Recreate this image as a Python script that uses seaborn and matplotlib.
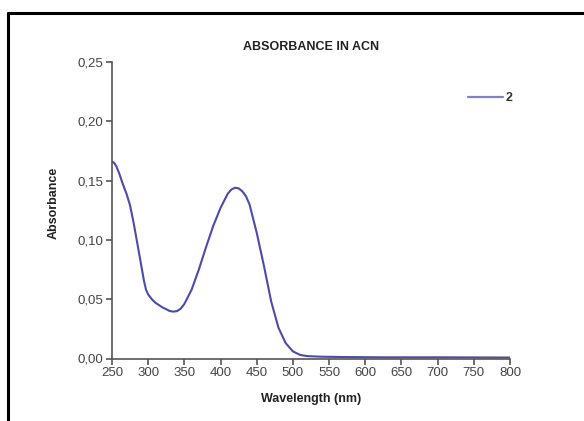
import numpy as np
import pandas as pd
import matplotlib
matplotlib.use("Agg")
import matplotlib.pyplot as plt
from matplotlib.lines import Line2D
from matplotlib.ticker import FuncFormatter
import seaborn as sns

# ── Data ──────────────────────────────────────────
wavelength = [250, 253, 256, 260, 265, 270, 275, 280, 285, 290, 294, 297, 300,
              305, 310, 320, 330, 335, 340, 345, 350, 360, 370, 380, 390, 400,
              410, 415, 420, 425, 430, 435, 440, 450, 460, 470, 480, 490, 500,
              510, 520, 540, 575, 625, 700, 800]
absorbance = [0.166, 0.165, 0.162, 0.156, 0.147, 0.139, 0.129, 0.114, 0.097,
              0.080, 0.066, 0.058, 0.054, 0.050, 0.047, 0.043, 0.040, 0.0395,
              0.040, 0.042, 0.046, 0.058, 0.075, 0.094, 0.112, 0.127, 0.139,
              0.1425, 0.144, 0.1435, 0.141, 0.137, 0.130, 0.106, 0.078, 0.048,
              0.026, 0.013, 0.006, 0.003, 0.002, 0.0015, 0.0012, 0.001, 0.001,
              0.0008]
series = ["2"] * len(wavelength)

x_ticks = [250, 300, 350, 400, 450, 500, 550, 600, 650, 700, 750, 800]
y_ticks = [0.00, 0.05, 0.10, 0.15, 0.20, 0.25]

df = pd.DataFrame({"Wavelength": wavelength, "Absorbance": absorbance, "Sample": series})

# ── Style ─────────────────────────────────────────
sns.set_theme(style="white")
plt.rcParams['font.family'] = ['Liberation Sans', 'DejaVu Sans']

fig = plt.figure(figsize=(5.84, 4.21), dpi=100)
ax = fig.add_axes([112 / 584, 1 - 358.5 / 421, 398 / 584, (358.5 - 62) / 421])

sns.lineplot(data=df, x="Wavelength", y="Absorbance", hue="Sample",
             palette=["#4b4bab"], linewidth=1.5, ax=ax)
for ln in ax.get_lines():
    ln.set_solid_joinstyle("round")

ax.set_xlim(250, 800)
ax.set_ylim(0, 0.25)
ax.set_xticks(x_ticks)
ax.set_yticks(y_ticks)
ax.yaxis.set_major_formatter(FuncFormatter(lambda v, p: f"{v:.2f}".replace(".", ",")))

for side in ["top", "right"]:
    ax.spines[side].set_visible(False)
for side in ["left", "bottom"]:
    ax.spines[side].set_color("#555555")
    ax.spines[side].set_linewidth(1.2)

ax.tick_params(axis="both", direction="out", length=4, width=1.2,
               color="#555555", labelsize=9.5, labelcolor="#444444", pad=2)
ax.tick_params(axis="x", bottom=True)
ax.tick_params(axis="y", left=True)

ax.set_xlabel("Wavelength (nm)", fontsize=9, fontweight="bold", color="#222222")
ax.set_ylabel("Absorbance", fontsize=9, fontweight="bold", color="#222222")
ax.xaxis.set_label_coords(0.5, -0.115)
ax.yaxis.set_label_coords(-0.131, 0.525)

ax.set_title("ABSORBANCE IN ACN", fontsize=9, fontweight="bold",
             color="#222222", pad=9)

leg = ax.legend(loc="center left", bbox_to_anchor=(462 / 584, 1 - 98 / 421),
                bbox_transform=fig.transFigure, frameon=False, fontsize=9,
                handlelength=2.8, handletextpad=0.15, borderpad=0)
for t in leg.get_texts():
    t.set_color("#333333")
    t.set_fontweight("bold")
for h in leg.get_lines():
    h.set_color("#8080d0")
    h.set_linewidth(1.6)

# partial frame around figure (top and left edges)
fig.add_artist(Line2D([8 / 584, 1.0], [1 - 13 / 421, 1 - 13 / 421],
                      transform=fig.transFigure, color="black", linewidth=2.2))
fig.add_artist(Line2D([8 / 584, 8 / 584], [0.0, 1 - 13 / 421],
                      transform=fig.transFigure, color="black", linewidth=2.2))

fig.savefig("out.png", dpi=100)
